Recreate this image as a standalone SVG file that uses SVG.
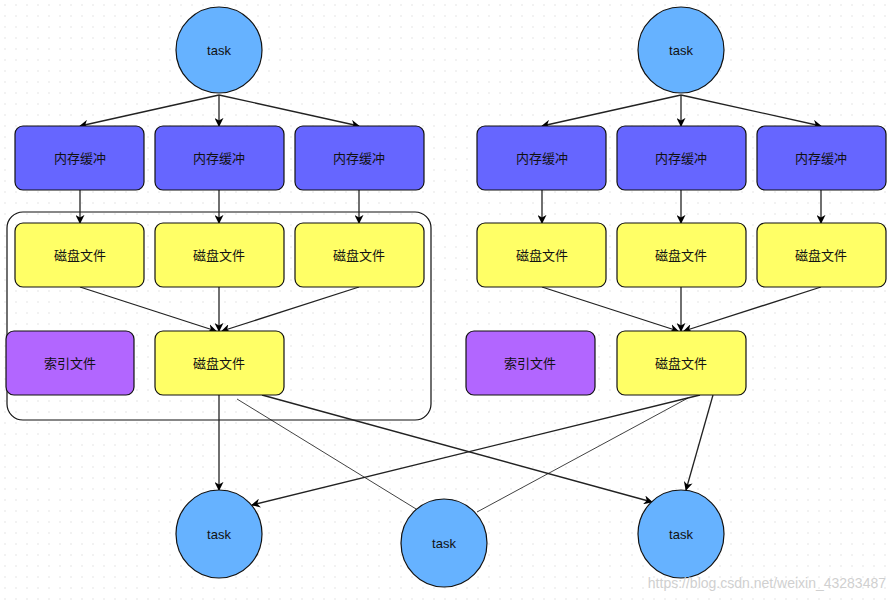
<svg xmlns="http://www.w3.org/2000/svg" width="892" height="603" viewBox="0 0 892 603">
<defs>
<pattern id="dots" width="11" height="11" patternUnits="userSpaceOnUse"><circle cx="5" cy="5" r="0.8" fill="#e2e2e2"/></pattern>
<marker id="ar" viewBox="0 0 10 10" refX="9" refY="5" markerWidth="9" markerHeight="9" orient="auto" markerUnits="userSpaceOnUse"><path d="M0,0 L10,5 L0,10 L3,5 Z" fill="#000"/></marker>
</defs>
<style>
.t{font-family:"Liberation Sans","Noto Sans CJK SC",sans-serif;font-size:13px;text-anchor:middle;dominant-baseline:central;fill:#111}
.c{fill:#66b2ff;stroke:#111;stroke-width:1.2}
.b{fill:#6666ff;stroke:#111;stroke-width:1.2}
.y{fill:#ffff66;stroke:#111;stroke-width:1.2}
.p{fill:#b266ff;stroke:#111;stroke-width:1.2}
.l{stroke:#222;stroke-width:1.3;fill:none}
.a{marker-end:url(#ar)}
.thin{stroke:#111;stroke-width:0.8;fill:none}
</style>
<rect width="892" height="603" fill="#fff"/>
<rect width="892" height="603" fill="url(#dots)"/>
<rect x="7" y="212" width="424" height="208" rx="16" fill="none" stroke="#111" stroke-width="1.2"/>
<g id="connectors">
<path class="l a" d="M219,95 L80,126"/><path class="l a" d="M219,95 L219,126"/><path class="l a" d="M219,95 L359,126"/>
<path class="l a" d="M681,95 L542,126"/><path class="l a" d="M681,95 L681,126"/><path class="l a" d="M681,95 L821,126"/>
<path class="l a" d="M80,190 L80,223"/><path class="l a" d="M219,190 L219,223"/><path class="l a" d="M359,190 L359,223"/>
<path class="l a" d="M542,190 L542,223"/><path class="l a" d="M681,190 L681,223"/><path class="l a" d="M821,190 L821,223"/>
<path class="l a" d="M80,287 L216,331"/><path class="l a" d="M219,287 L219,331"/><path class="l a" d="M359,287 L222,331"/>
<path class="l a" d="M542,287 L678,331"/><path class="l a" d="M681,287 L681,331"/><path class="l a" d="M821,287 L684,331"/>
<path class="l a" d="M219,395 L219,490"/>
<path class="l a" d="M262,395 L652,502"/>
<path class="thin" d="M237,399 L421,512"/>
<path class="l a" d="M700,395 L252,505"/>
<path class="thin" d="M688,398 L477,512"/>
<path class="l a" d="M713,395 L686,490"/>
</g>
<g id="task-top-left"><circle class="c" cx="219" cy="50" r="43"/><text class="t" x="219" y="50">task</text></g>
<g id="task-top-right"><circle class="c" cx="681" cy="50" r="43"/><text class="t" x="681" y="50">task</text></g>
<g id="mem-1"><rect class="b" x="15" y="126" width="129" height="64" rx="8"/><text class="t" x="80" y="158">内存缓冲</text></g>
<g id="mem-2"><rect class="b" x="155" y="126" width="129" height="64" rx="8"/><text class="t" x="219" y="158">内存缓冲</text></g>
<g id="mem-3"><rect class="b" x="295" y="126" width="129" height="64" rx="8"/><text class="t" x="359" y="158">内存缓冲</text></g>
<g id="mem-4"><rect class="b" x="477" y="126" width="129" height="64" rx="8"/><text class="t" x="542" y="158">内存缓冲</text></g>
<g id="mem-5"><rect class="b" x="617" y="126" width="129" height="64" rx="8"/><text class="t" x="681" y="158">内存缓冲</text></g>
<g id="mem-6"><rect class="b" x="757" y="126" width="129" height="64" rx="8"/><text class="t" x="821" y="158">内存缓冲</text></g>
<g id="disk-1"><rect class="y" x="15" y="223" width="129" height="64" rx="8"/><text class="t" x="80" y="255">磁盘文件</text></g>
<g id="disk-2"><rect class="y" x="155" y="223" width="129" height="64" rx="8"/><text class="t" x="219" y="255">磁盘文件</text></g>
<g id="disk-3"><rect class="y" x="295" y="223" width="129" height="64" rx="8"/><text class="t" x="359" y="255">磁盘文件</text></g>
<g id="disk-4"><rect class="y" x="477" y="223" width="129" height="64" rx="8"/><text class="t" x="542" y="255">磁盘文件</text></g>
<g id="disk-5"><rect class="y" x="617" y="223" width="129" height="64" rx="8"/><text class="t" x="681" y="255">磁盘文件</text></g>
<g id="disk-6"><rect class="y" x="757" y="223" width="129" height="64" rx="8"/><text class="t" x="821" y="255">磁盘文件</text></g>
<g id="index-left"><rect class="p" x="6" y="331" width="128" height="64" rx="8"/><text class="t" x="70" y="363">索引文件</text></g>
<g id="merge-left"><rect class="y" x="155" y="331" width="129" height="64" rx="8"/><text class="t" x="219" y="363">磁盘文件</text></g>
<g id="index-right"><rect class="p" x="466" y="331" width="129" height="64" rx="8"/><text class="t" x="530" y="363">索引文件</text></g>
<g id="merge-right"><rect class="y" x="617" y="331" width="129" height="64" rx="8"/><text class="t" x="681" y="363">磁盘文件</text></g>
<g id="task-bottom-1"><ellipse class="c" cx="219" cy="534" rx="43" ry="44"/><text class="t" x="219" y="534">task</text></g>
<g id="task-bottom-2"><ellipse class="c" cx="444" cy="543" rx="43" ry="44"/><text class="t" x="444" y="543">task</text></g>
<g id="task-bottom-3"><ellipse class="c" cx="681" cy="534" rx="43" ry="44"/><text class="t" x="681" y="534">task</text></g>
<text x="886" y="588" font-family="Liberation Sans,sans-serif" font-size="14" fill="#d0d0d0" text-anchor="end">https://blog.csdn.net/weixin_43283487</text>
</svg>
